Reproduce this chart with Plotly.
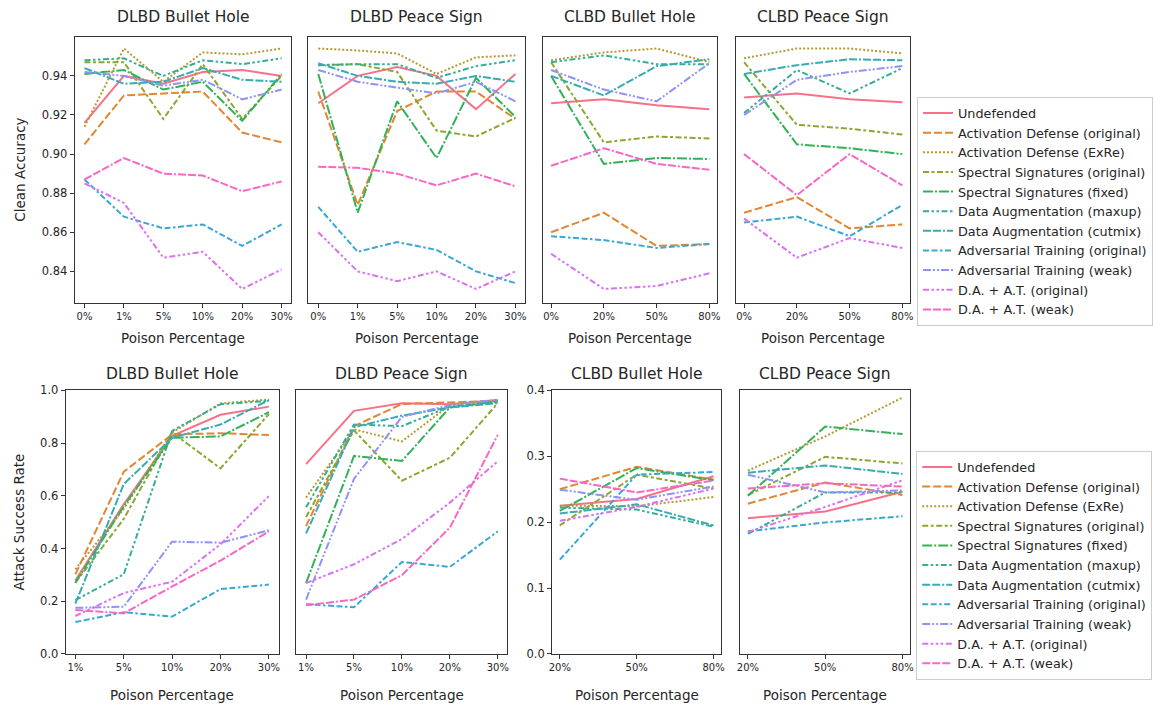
import math
import plotly.graph_objects as go

# ---------------- data ----------------
METHODS = [
    "Undefended",
    "Activation Defense (original)",
    "Activation Defense (ExRe)",
    "Spectral Signatures (original)",
    "Spectral Signatures (fixed)",
    "Data Augmentation (maxup)",
    "Data Augmentation (cutmix)",
    "Adversarial Training (original)",
    "Adversarial Training (weak)",
    "D.A. + A.T. (original)",
    "D.A. + A.T. (weak)",
]

X_DLBD_CA = ["0%", "1%", "5%", "10%", "20%", "30%"]
X_CLBD_CA = ["0%", "20%", "50%", "80%"]
X_DLBD_ASR = ["1%", "5%", "10%", "20%", "30%"]
X_CLBD_ASR = ["20%", "50%", "80%"]

CA_DLBD_BULLET = [
    [0.916, 0.940, 0.936, 0.942, 0.943, 0.940],
    [0.905, 0.930, 0.931, 0.932, 0.911, 0.906],
    [0.914, 0.954, 0.937, 0.952, 0.951, 0.954],
    [0.947, 0.947, 0.918, 0.946, 0.918, 0.940],
    [0.941, 0.943, 0.933, 0.937, 0.917, 0.941],
    [0.948, 0.949, 0.940, 0.948, 0.946, 0.949],
    [0.944, 0.936, 0.937, 0.944, 0.938, 0.937],
    [0.887, 0.868, 0.862, 0.864, 0.853, 0.864],
    [0.942, 0.940, 0.935, 0.938, 0.928, 0.933],
    [0.885, 0.875, 0.847, 0.850, 0.831, 0.841],
    [0.887, 0.898, 0.890, 0.889, 0.881, 0.886],
]

CA_DLBD_PEACE = [
    [0.926, 0.940, 0.9445, 0.940, 0.923, 0.941],
    [0.932, 0.874, 0.922, 0.932, 0.932, 0.918],
    [0.954, 0.953, 0.9515, 0.941, 0.9495, 0.9505],
    [0.9455, 0.946, 0.942, 0.912, 0.909, 0.9185],
    [0.941, 0.870, 0.927, 0.898, 0.939, 0.919],
    [0.9455, 0.946, 0.946, 0.939, 0.945, 0.948],
    [0.9465, 0.940, 0.937, 0.936, 0.940, 0.937],
    [0.873, 0.850, 0.855, 0.851, 0.840, 0.834],
    [0.943, 0.937, 0.934, 0.931, 0.937, 0.927],
    [0.860, 0.840, 0.835, 0.840, 0.831, 0.840],
    [0.8935, 0.893, 0.890, 0.884, 0.890, 0.8835],
]

CA_CLBD_BULLET = [
    [0.926, 0.928, 0.925, 0.923],
    [0.860, 0.870, 0.853, 0.854],
    [0.948, 0.952, 0.954, 0.947],
    [0.947, 0.906, 0.909, 0.908],
    [0.940, 0.895, 0.898, 0.8975],
    [0.947, 0.9505, 0.946, 0.946],
    [0.940, 0.930, 0.945, 0.9485],
    [0.858, 0.856, 0.852, 0.854],
    [0.943, 0.933, 0.927, 0.9465],
    [0.849, 0.831, 0.8325, 0.839],
    [0.894, 0.903, 0.895, 0.892],
]

CA_CLBD_PEACE = [
    [0.929, 0.931, 0.928, 0.9265],
    [0.870, 0.878, 0.862, 0.864],
    [0.949, 0.954, 0.954, 0.9515],
    [0.947, 0.915, 0.913, 0.910],
    [0.941, 0.905, 0.903, 0.900],
    [0.921, 0.943, 0.931, 0.944],
    [0.941, 0.9455, 0.9485, 0.948],
    [0.865, 0.868, 0.858, 0.874],
    [0.920, 0.938, 0.942, 0.945],
    [0.867, 0.847, 0.857, 0.852],
    [0.900, 0.879, 0.900, 0.884],
]

ASR_DLBD_BULLET = [
    [0.278, 0.568, 0.827, 0.907, 0.938],
    [0.302, 0.691, 0.833, 0.837, 0.830],
    [0.321, 0.550, 0.840, 0.950, 0.965],
    [0.270, 0.512, 0.840, 0.704, 0.910],
    [0.270, 0.560, 0.820, 0.825, 0.917],
    [0.204, 0.302, 0.846, 0.947, 0.960],
    [0.191, 0.644, 0.820, 0.870, 0.963],
    [0.121, 0.158, 0.142, 0.246, 0.263],
    [0.175, 0.179, 0.426, 0.422, 0.469],
    [0.144, 0.231, 0.274, 0.416, 0.599],
    [0.167, 0.154, 0.256, 0.354, 0.465],
]

ASR_DLBD_PEACE = [
    [0.720, 0.922, 0.951, 0.947, 0.963],
    [0.485, 0.864, 0.948, 0.953, 0.960],
    [0.593, 0.852, 0.806, 0.944, 0.960],
    [0.519, 0.848, 0.657, 0.744, 0.951],
    [0.269, 0.751, 0.732, 0.935, 0.957],
    [0.556, 0.870, 0.864, 0.938, 0.957],
    [0.457, 0.860, 0.904, 0.935, 0.951],
    [0.189, 0.177, 0.349, 0.330, 0.465],
    [0.206, 0.664, 0.899, 0.944, 0.965],
    [0.269, 0.340, 0.436, 0.574, 0.731],
    [0.185, 0.206, 0.299, 0.479, 0.831],
]

ASR_CLBD_BULLET = [
    [0.225, 0.235, 0.2695],
    [0.250, 0.284, 0.2645],
    [0.225, 0.224, 0.238],
    [0.195, 0.272, 0.251],
    [0.217, 0.282, 0.2635],
    [0.222, 0.219, 0.193],
    [0.213, 0.227, 0.195],
    [0.143, 0.272, 0.276],
    [0.249, 0.234, 0.254],
    [0.202, 0.223, 0.251],
    [0.266, 0.245, 0.263],
]

ASR_CLBD_PEACE = [
    [0.206, 0.216, 0.246],
    [0.228, 0.260, 0.241],
    [0.278, 0.330, 0.389],
    [0.241, 0.299, 0.289],
    [0.240, 0.345, 0.3335],
    [0.182, 0.245, 0.245],
    [0.275, 0.286, 0.273],
    [0.186, 0.1995, 0.209],
    [0.272, 0.245, 0.248],
    [0.185, 0.223, 0.2635],
    [0.251, 0.259, 0.254],
]

TITLES = ["DLBD Bullet Hole", "DLBD Peace Sign", "CLBD Bullet Hole", "CLBD Peace Sign"]

# ---------------- style: seaborn husl palette ----------------
_M = [[3.2406, -1.5372, -0.4986],
      [-0.9689, 1.8758, 0.0415],
      [0.0557, -0.2040, 1.0570]]
_refU, _refV, _kappa = 0.19784, 0.46834, 903.3


def _max_chroma(L, H):
    hrad = math.radians(H)
    sinH, cosH = math.sin(hrad), math.cos(hrad)
    sub1 = (L + 16) ** 3 / 1560896.0
    sub2 = sub1 if sub1 > 0.008856 else L / _kappa
    res = float("inf")
    for m1, m2, m3 in _M:
        top = (0.99915 * m1 + 1.05122 * m2 + 1.14460 * m3) * sub2
        rb = 0.86330 * m3 - 0.17266 * m2
        lb = 0.12949 * m3 - 0.38848 * m1
        bottom = (rb * sinH + lb * cosH) * sub2
        for t in (0.0, 1.0):
            C = L * (top - 1.05122 * t) / (bottom + 0.17266 * sinH * t)
            if 0.0 < C < res:
                res = C
    return res


def _husl_to_hex(H, S, L):
    C = _max_chroma(L, H) / 100.0 * S
    U = math.cos(math.radians(H)) * C
    V = math.sin(math.radians(H)) * C
    Y = ((L + 16.0) / 116.0) ** 3 if L > 8 else L / _kappa
    vU = U / (13.0 * L) + _refU
    vV = V / (13.0 * L) + _refV
    X = -(9.0 * Y * vU) / ((vU - 4.0) * vV - vU * vV)
    Z = (9.0 * Y - 15.0 * vV * Y - vV * X) / (3.0 * vV)
    out = []
    for row in _M:
        c = row[0] * X + row[1] * Y + row[2] * Z
        c = 12.92 * c if c <= 0.0031308 else 1.055 * c ** (1 / 2.4) - 0.055
        c = min(max(c, 0.0), 1.0)
        out.append(int(round(c * 255)))
    return "#%02x%02x%02x" % tuple(out)


n = len(METHODS)
COLORS = [_husl_to_hex(((i / n + 0.01) % 1) * 359, 0.9 * 99, 0.65 * 99) for i in range(n)]

LW = 2.0
_DASH_SPECS = [None, (4, 1.5), (1, 1), (3, 1.25, 1.5, 1.25), (5, 1, 1, 1),
               (3, 1.25, 1.25, 1.25, 1.25, 1.25), (4, 1, 4, 1, 1, 1),
               (3, 1.25, 3, 1.25, 1.25, 1.25), (4, 1, 1, 1, 1, 1),
               (3, 1.25, 1.25, 1.25, 1.25, 1.25, 1.25, 1.25),
               (4, 1, 4, 1, 4, 1, 1, 1)]
DASHES = ["solid" if s is None else ",".join("%gpx" % (v * LW) for v in s) for s in _DASH_SPECS]

W, H = 1153, 709
TXT = "#262626"
FONT = "DejaVu Sans"


def px_x(a, b):
    return [a / W, b / W]


def px_y(top, bottom):
    return [1 - bottom / H, 1 - top / H]


# panel geometry (pixels)
TOP_Y = (31, 302)
BOT_Y = (391, 660)
TOP_X = [(72, 290), (307, 525), (543, 718), (737, 912)]
BOT_X = [(63, 277), (295, 507), (552, 722), (741, 912)]

panels = [
    (CA_DLBD_BULLET, X_DLBD_CA, TOP_X[0], TOP_Y, [0.8238, 0.9597], True, [0.84, 0.86, 0.88, 0.90, 0.92, 0.94, 0.96], ".2f", "legend"),
    (CA_DLBD_PEACE, X_DLBD_CA, TOP_X[1], TOP_Y, [0.8238, 0.9597], False, None, None, None),
    (CA_CLBD_BULLET, X_CLBD_CA, TOP_X[2], TOP_Y, [0.8238, 0.9597], False, None, None, None),
    (CA_CLBD_PEACE, X_CLBD_CA, TOP_X[3], TOP_Y, [0.8238, 0.9597], False, None, None, None),
    (ASR_DLBD_BULLET, X_DLBD_ASR, BOT_X[0], BOT_Y, [0.0, 1.0], True, [0.0, 0.2, 0.4, 0.6, 0.8, 1.0], ".1f", "legend2"),
    (ASR_DLBD_PEACE, X_DLBD_ASR, BOT_X[1], BOT_Y, [0.0, 1.0], False, None, None, None),
    (ASR_CLBD_BULLET, X_CLBD_ASR, BOT_X[2], BOT_Y, [0.0, 0.4], True, [0.0, 0.1, 0.2, 0.3, 0.4], ".1f", None),
    (ASR_CLBD_PEACE, X_CLBD_ASR, BOT_X[3], BOT_Y, [0.0, 0.4], False, None, None, None),
]

fig = go.Figure()
annotations = []
layout = {}

for k, (data, xcats, xpix, ypix, yr, showy, tv, fmt, leg) in enumerate(panels):
    idx = "" if k == 0 else str(k + 1)
    xa, ya = "x" + idx, "y" + idx
    ncat = len(xcats)
    marg = 0.05 * (ncat - 1)
    layout["xaxis" + idx] = dict(
        domain=px_x(*xpix), anchor=ya, type="category",
        range=[-marg, ncat - 1 + marg],
        showline=True, mirror=True, linecolor="#333333", linewidth=1,
        ticks="outside", ticklen=4, tickcolor="#333333", tickwidth=1,
        tickfont=dict(size=10, color=TXT, family=FONT),
        showgrid=False, zeroline=False, fixedrange=True,
    )
    yax = dict(
        domain=px_y(*ypix), anchor=xa, range=yr,
        showline=True, mirror=True, linecolor="#333333", linewidth=1,
        showgrid=False, zeroline=False, fixedrange=True,
    )
    if showy:
        yax.update(ticks="outside", ticklen=4, tickcolor="#333333", tickwidth=1,
                   tickvals=tv, tickformat=fmt, showticklabels=True,
                   tickfont=dict(size=11.5, color=TXT, family=FONT))
    else:
        yax.update(ticks="", showticklabels=False)
    layout["yaxis" + idx] = yax

    for i, name in enumerate(METHODS):
        fig.add_trace(go.Scatter(
            x=xcats, y=data[i], mode="lines", name=name,
            xaxis=xa, yaxis=ya,
            line=dict(color=COLORS[i], width=LW, dash=DASHES[i]),
            showlegend=leg is not None, legend=leg if leg else "legend",
            hoverinfo="skip",
        ))

    cx = (xpix[0] + xpix[1]) / 2 / W
    ty = 10 if ypix == TOP_Y else 374
    annotations.append(dict(text=TITLES[k % 4], x=cx, y=1 - ty / H, xref="paper", yref="paper",
                            showarrow=False, xanchor="center", yanchor="middle",
                            font=dict(size=15.5, color=TXT, family=FONT)))
    lx = 338 if ypix == TOP_Y else 702
    annotations.append(dict(text="Poison Percentage", x=cx, y=1 - lx / H, xref="paper", yref="paper",
                            showarrow=False, xanchor="center", yanchor="middle",
                            font=dict(size=13.5, color=TXT, family=FONT)))

annotations.append(dict(text="Clean Accuracy", x=17 / W, y=1 - 166 / H, xref="paper", yref="paper",
                        showarrow=False, textangle=-90, xanchor="center", yanchor="middle",
                        font=dict(size=13.5, color=TXT, family=FONT)))
annotations.append(dict(text="Attack Success Rate", x=16 / W, y=1 - 525 / H, xref="paper", yref="paper",
                        showarrow=False, textangle=-90, xanchor="center", yanchor="middle",
                        font=dict(size=13.5, color=TXT, family=FONT)))

legend_style = dict(
    xanchor="left", yanchor="top", bgcolor="rgba(255,255,255,0.8)",
    bordercolor="#cccccc", borderwidth=1,
    font=dict(size=12.8, color=TXT, family=FONT),
    itemwidth=30, tracegroupgap=0,
)

fig.update_layout(
    width=W, height=H,
    margin=dict(l=0, r=0, t=0, b=0),
    paper_bgcolor="white", plot_bgcolor="white",
    font=dict(family=FONT, color=TXT),
    annotations=annotations,
    legend=dict(x=919 / W, y=1 - 92 / H, **legend_style),
    legend2=dict(x=918 / W, y=1 - 453 / H, **legend_style),
    **layout,
)

fig.write_html("out.html")
